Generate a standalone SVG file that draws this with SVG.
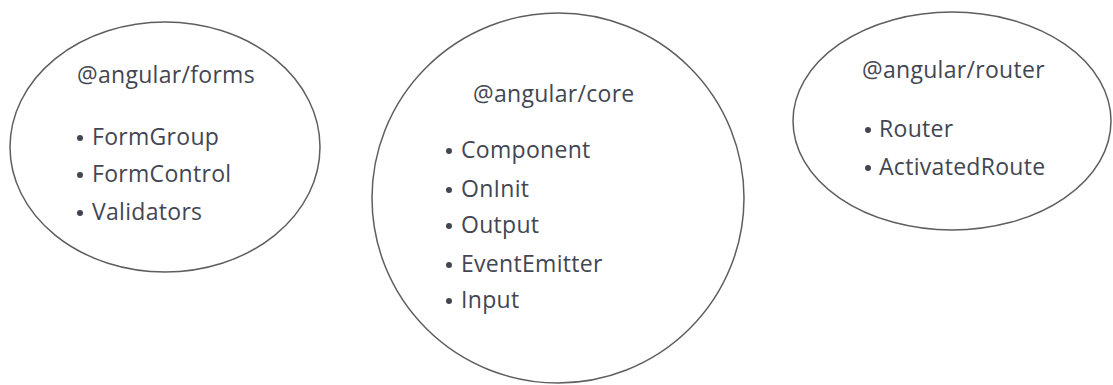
<svg xmlns="http://www.w3.org/2000/svg" width="1113" height="385" viewBox="0 0 1113 385">
<style>
.shape{fill:#ffffff;stroke:#5e5e5e;stroke-width:1.5}
.t{font-family:"Open Sans","Noto Sans","Liberation Sans",sans-serif;font-size:23px;letter-spacing:0.3px;fill:#434652}
.b{fill:#434652}
</style>
<rect width="1113" height="385" fill="#ffffff"/>
<g id="connectors"></g>
<g id="forms">
<ellipse class="shape" cx="165" cy="147" rx="155" ry="125"/>
<text class="t" x="77" y="83">@angular/forms</text>
<circle class="b" cx="80" cy="138" r="3"/><text class="t" x="92" y="145">FormGroup</text>
<circle class="b" cx="80" cy="175" r="3"/><text class="t" x="92" y="182">FormControl</text>
<circle class="b" cx="80" cy="213" r="3"/><text class="t" x="92" y="220">Validators</text>
</g>
<g id="core">
<ellipse class="shape" cx="558" cy="198" rx="186" ry="185"/>
<text class="t" x="473" y="102">@angular/core</text>
<circle class="b" cx="449" cy="151" r="3"/><text class="t" x="461" y="158">Component</text>
<circle class="b" cx="449" cy="190" r="3"/><text class="t" x="461" y="197">OnInit</text>
<circle class="b" cx="449" cy="226" r="3"/><text class="t" x="461" y="233">Output</text>
<circle class="b" cx="449" cy="265" r="3"/><text class="t" x="461" y="272">EventEmitter</text>
<circle class="b" cx="449" cy="301" r="3"/><text class="t" x="461" y="308">Input</text>
</g>
<g id="router">
<ellipse class="shape" cx="952" cy="121" rx="159" ry="109"/>
<text class="t" x="862" y="78">@angular/router</text>
<circle class="b" cx="868" cy="130" r="3"/><text class="t" x="879" y="137">Router</text>
<circle class="b" cx="868" cy="168" r="3"/><text class="t" x="879" y="175">ActivatedRoute</text>
</g>
</svg>
